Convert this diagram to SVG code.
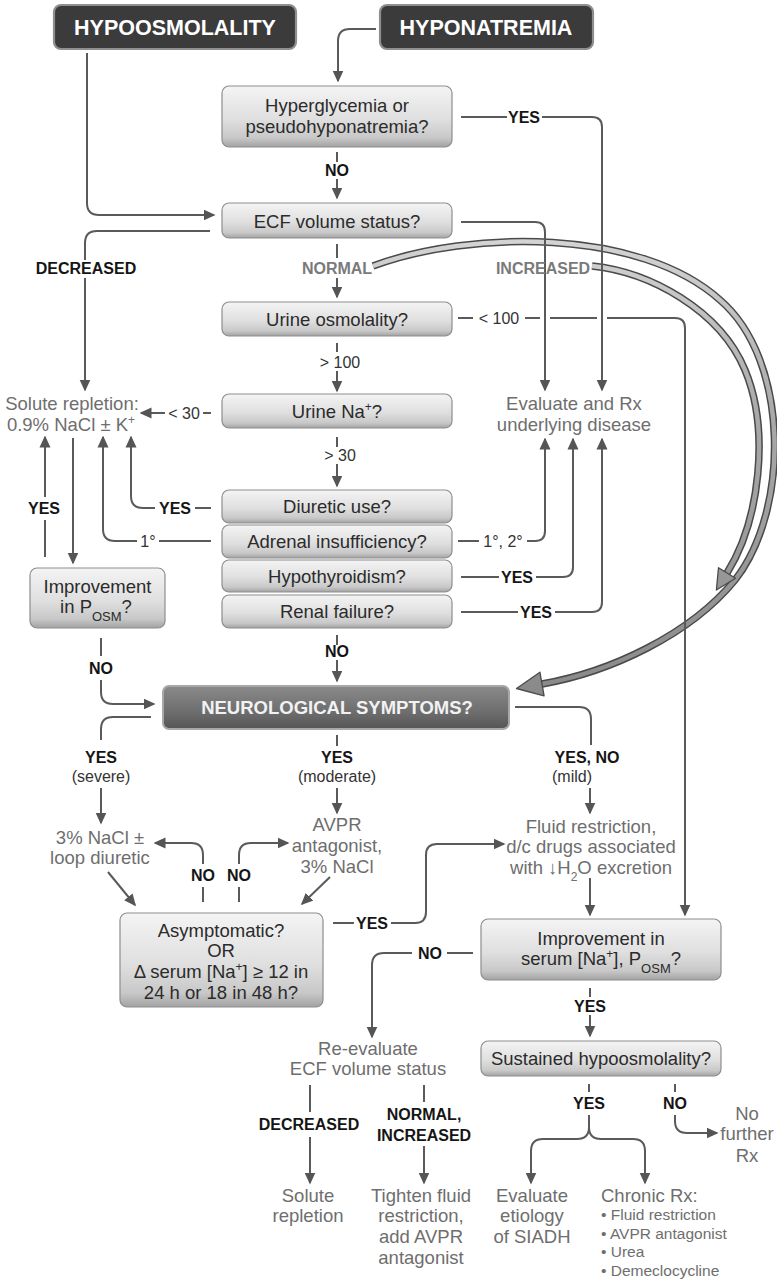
<svg xmlns="http://www.w3.org/2000/svg" width="777" height="1279" viewBox="0 0 777 1279">
<defs>
<linearGradient id="gBox" x1="0" y1="0" x2="0" y2="1">
<stop offset="0" stop-color="#f4f4f4"/>
<stop offset="0.55" stop-color="#dfdfdf"/>
<stop offset="0.85" stop-color="#c8c8c8"/>
<stop offset="1" stop-color="#a2a2a2"/>
</linearGradient>
<linearGradient id="gNeuro" x1="0" y1="0" x2="0" y2="1">
<stop offset="0" stop-color="#8a8a8a"/>
<stop offset="0.6" stop-color="#6e6e6e"/>
<stop offset="1" stop-color="#555555"/>
</linearGradient>
<linearGradient id="gBand" gradientUnits="userSpaceOnUse" x1="0" y1="240" x2="0" y2="690">
<stop offset="0" stop-color="#d4d4d4"/>
<stop offset="0.36" stop-color="#ababab"/>
<stop offset="1" stop-color="#8a8a8a"/>
</linearGradient>
<marker id="ah" markerUnits="userSpaceOnUse" markerWidth="12" markerHeight="12" refX="10.5" refY="6" orient="auto" viewBox="0 0 12 12">
<path d="M0,0.5 L12,6 L0,11.5 z" fill="#555555"/>
</marker>
</defs>
<style>
.ln{fill:none;stroke:#5a5a5a;stroke-width:2}
.arr{marker-end:url(#ah)}
.bx{fill:url(#gBox);stroke:#8e8e8e;stroke-width:1.2}
.dk{fill:#3b3b3b;stroke:#8f8f8f;stroke-width:2.2}
.nb{fill:url(#gNeuro);stroke:#a8a8a8;stroke-width:2}
.band{fill:none;stroke:#4a4a4a;stroke-width:7.5}
.bandin{fill:none;stroke:url(#gBand);stroke-width:4.5}
.ah2{fill:url(#gBand);stroke:#4a4a4a;stroke-width:1.3;stroke-linejoin:round}
text{font-family:"Liberation Sans",Arial,Helvetica,sans-serif;text-anchor:middle}
.hd{font-size:21.5px;font-weight:bold;fill:#ffffff}
.q{font-size:18.5px;fill:#2b2b2b}
.nt{font-size:18.5px;font-weight:bold;fill:#f2f2f2}
.g{font-size:18.5px;fill:#6e6e6e}
.gl{font-size:18.5px;fill:#6e6e6e;text-anchor:start}
.bl{font-size:15.5px;fill:#6e6e6e;text-anchor:start}
.lb{font-size:16px;font-weight:bold;fill:#151515}
.lg{font-size:16px;font-weight:bold;fill:#7a7a7a}
.lr{font-size:16px;fill:#333333}
</style>

<!-- big hollow arrows -->
<g id="big-arrows">
<path class="band" d="M 373 266 C 470 230, 640 228, 720 300 C 790 360, 790 510, 735 580 C 690 635, 610 672, 542 684"/>
<path class="bandin" d="M 373 266 C 470 230, 640 228, 720 300 C 790 360, 790 510, 735 580 C 690 635, 610 672, 542 684"/>
<polygon class="ah2" points="516.5,688.5 539.9,672.2 544.1,695.8"/>
<path class="band" d="M 592 266 C 650 272, 720 310, 745 370 C 770 430, 760 520, 727 573"/>
<path class="bandin" d="M 592 266 C 650 272, 720 310, 745 370 C 770 430, 760 520, 727 573"/>
<polygon class="ah2" points="716.4,590 718.5,567.7 735.5,578.3"/>
</g>

<g id="connectors">
<path class="ln arr" d="M 376 29 H 350 Q 338 29 338 41 V 81"/>
<path class="ln arr" d="M 87 53 V 203 Q 87 215 99 215 H 214"/>
<path class="ln" d="M 461 117 H 507"/>
<path class="ln arr" d="M 542 117 H 592 Q 602 117 602 127 V 390"/>
<path class="ln arr" d="M 461 222 H 535 Q 545 222 545 232 V 390"/>
<path class="ln" d="M 210 231 H 97 Q 85 231 85 243 V 260"/>
<path class="ln arr" d="M 85 278 V 390"/>
<path class="ln" d="M 337 152 V 162"/>
<path class="ln arr" d="M 337 179 V 198"/>
<path class="ln" d="M 337 244 V 258"/>
<path class="ln arr" d="M 337 278 V 297"/>
<path class="ln" d="M 337 343 V 352"/>
<path class="ln arr" d="M 337 371 V 391"/>
<path class="ln" d="M 458 318 H 473"/>
<path class="ln" d="M 525 318 H 540"/>
<path class="ln" d="M 550 318 H 597"/>
<path class="ln arr" d="M 607 318 H 675 Q 685 318 685 328 V 915"/>
<path class="ln" d="M 211 413 H 203"/>
<path class="ln arr" d="M 165 413 H 141"/>
<path class="ln" d="M 337 437 V 447"/>
<path class="ln arr" d="M 337 464 V 486"/>
<path class="ln" d="M 211 508 H 195"/>
<path class="ln arr" d="M 155 508 H 143 Q 131 508 131 496 V 437"/>
<path class="ln" d="M 211 541 H 159"/>
<path class="ln arr" d="M 137 541 H 115 Q 103 541 103 529 V 437"/>
<path class="ln" d="M 458 541 H 479"/>
<path class="ln arr" d="M 527 541 H 535 Q 545 541 545 531 V 439"/>
<path class="ln" d="M 461 577 H 499"/>
<path class="ln arr" d="M 536 577 H 563 Q 573 577 573 567 V 439"/>
<path class="ln" d="M 461 612 H 518"/>
<path class="ln arr" d="M 555 612 H 592 Q 602 612 602 602 V 439"/>
<path class="ln" d="M 45 557 V 520"/>
<path class="ln arr" d="M 45 497 V 437"/>
<path class="ln arr" d="M 73 438 V 563"/>
<path class="ln" d="M 101 638 V 656"/>
<path class="ln arr" d="M 101 680 V 692 Q 101 704 113 704 H 154"/>
<path class="ln" d="M 337 635 V 645"/>
<path class="ln arr" d="M 337 660 V 681"/>
<path class="ln" d="M 151 717 H 113 Q 101 717 101 729 V 740"/>
<path class="ln arr" d="M 101 788 V 823"/>
<path class="ln" d="M 337 735 V 746"/>
<path class="ln arr" d="M 337 788 V 813"/>
<path class="ln" d="M 515 707 H 579 Q 591 707 591 719 V 745"/>
<path class="ln arr" d="M 590 788 V 813"/>
<path class="ln arr" d="M 203 864 V 855 Q 203 843 191 843 H 155"/>
<path class="ln arr" d="M 239 864 V 855 Q 239 843 251 843 H 288"/>
<path class="ln" d="M 203 887 V 902"/>
<path class="ln" d="M 239 887 V 902"/>
<path class="ln arr" d="M 108 872 L 135 905"/>
<path class="ln arr" d="M 330 877 L 302 904"/>
<path class="ln" d="M 333 923 H 354"/>
<path class="ln arr" d="M 391 923 H 415 Q 426 923 426 912 V 855 Q 426 844 437 844 H 504"/>
<path class="ln arr" d="M 590 878 V 915"/>
<path class="ln" d="M 473 953 H 447"/>
<path class="ln arr" d="M 412 953 H 384 Q 372 953 372 965 V 1037"/>
<path class="ln" d="M 590 988 V 997"/>
<path class="ln arr" d="M 590 1015 V 1036"/>
<path class="ln" d="M 310 1085 V 1112"/>
<path class="ln arr" d="M 310 1137 V 1183"/>
<path class="ln" d="M 424 1085 V 1102"/>
<path class="ln arr" d="M 424 1146 V 1183"/>
<path class="ln" d="M 589 1084 V 1092"/>
<path class="ln arr" d="M 589 1115 V 1127 Q 589 1139 577 1139 H 543 Q 531 1139 531 1151 V 1183"/>
<path class="ln arr" d="M 589 1127 Q 589 1139 601 1139 H 633 Q 645 1139 645 1151 V 1183"/>
<path class="ln" d="M 675 1084 V 1092"/>
<path class="ln arr" d="M 675 1115 V 1121 Q 675 1133 687 1133 H 717"/>
</g>

<g id="edge-labels">
<text class="lb" x="524" y="123">YES</text>
<text class="lb" x="337" y="176">NO</text>
<text class="lb" x="86" y="274">DECREASED</text>
<text class="lg" x="337" y="274">NORMAL</text>
<text class="lg" x="543" y="274">INCREASED</text>
<text class="lr" x="499" y="324">&lt; 100</text>
<text class="lr" x="340" y="368">&gt; 100</text>
<text class="lr" x="184" y="419">&lt; 30</text>
<text class="lr" x="340" y="461">&gt; 30</text>
<text class="lb" x="175" y="514">YES</text>
<text class="lb" x="44" y="514">YES</text>
<text class="lr" x="148" y="547">1°</text>
<text class="lr" x="503" y="547">1°, 2°</text>
<text class="lb" x="517" y="583">YES</text>
<text class="lb" x="536" y="618">YES</text>
<text class="lb" x="101" y="674">NO</text>
<text class="lb" x="337" y="657">NO</text>
<text class="lb" x="101" y="763">YES</text>
<text class="lr" x="101" y="782">(severe)</text>
<text class="lb" x="337" y="763">YES</text>
<text class="lr" x="337" y="782">(moderate)</text>
<text class="lb" x="587" y="763">YES, NO</text>
<text class="lr" x="572" y="782">(mild)</text>
<text class="lb" x="203" y="881">NO</text>
<text class="lb" x="239" y="881">NO</text>
<text class="lb" x="372" y="929">YES</text>
<text class="lb" x="430" y="959">NO</text>
<text class="lb" x="590" y="1012">YES</text>
<text class="lb" x="309" y="1130">DECREASED</text>
<text class="lb" x="424" y="1120">NORMAL,</text>
<text class="lb" x="424" y="1141">INCREASED</text>
<text class="lb" x="589" y="1109">YES</text>
<text class="lb" x="675" y="1109">NO</text>
</g>

<g id="hypoosmolality"><rect class="dk" x="54" y="5" width="242" height="44" rx="7"/><text class="hd" x="175" y="35">HYPOOSMOLALITY</text></g>
<g id="hyponatremia"><rect class="dk" x="380" y="5" width="213" height="44" rx="7"/><text class="hd" x="486" y="35">HYPONATREMIA</text></g>
<g id="hyperglycemia"><rect class="bx" x="222" y="86" width="230" height="61" rx="7"/><text class="q" x="337" y="112">Hyperglycemia or</text><text class="q" x="337" y="133">pseudohyponatremia?</text></g>
<g id="ecf-volume"><rect class="bx" x="222" y="203" width="230" height="35" rx="7"/><text class="q" x="337" y="227.5">ECF volume status?</text></g>
<g id="urine-osm"><rect class="bx" x="222" y="302" width="230" height="34" rx="7"/><text class="q" x="337" y="326">Urine osmolality?</text></g>
<g id="urine-na"><rect class="bx" x="222" y="394" width="230" height="34" rx="7"/><text class="q" x="337" y="418">Urine Na<tspan font-size="12" baseline-shift="super">+</tspan>?</text></g>
<g id="diuretic"><rect class="bx" x="222" y="490" width="230" height="33" rx="7"/><text class="q" x="337" y="513">Diuretic use?</text></g>
<g id="adrenal"><rect class="bx" x="222" y="525" width="230" height="33" rx="7"/><text class="q" x="337" y="548">Adrenal insufficiency?</text></g>
<g id="hypothyroidism"><rect class="bx" x="222" y="560" width="230" height="32" rx="7"/><text class="q" x="337" y="582.5">Hypothyroidism?</text></g>
<g id="renal-failure"><rect class="bx" x="222" y="595" width="230" height="33" rx="7"/><text class="q" x="337" y="618">Renal failure?</text></g>
<g id="solute-repletion"><text class="g" x="72" y="410">Solute repletion:</text><text class="g" x="71" y="431">0.9% NaCl ± K<tspan font-size="12" baseline-shift="super">+</tspan></text></g>
<g id="evaluate-rx"><text class="g" x="574" y="410">Evaluate and Rx</text><text class="g" x="574" y="431">underlying disease</text></g>
<g id="improvement-posm"><rect class="bx" x="30" y="568" width="135" height="60" rx="7"/><text class="q" x="97.5" y="592.5">Improvement</text><text class="q" x="96" y="612.5">in P<tspan font-size="13" baseline-shift="sub">OSM</tspan>?</text></g>
<g id="neuro"><rect class="nb" x="163" y="686" width="346" height="43" rx="6"/><text class="nt" x="337" y="714">NEUROLOGICAL SYMPTOMS?</text></g>
<g id="hypertonic"><text class="g" x="100" y="844">3% NaCl ±</text><text class="g" x="100" y="864">loop diuretic</text></g>
<g id="avpr"><text class="g" x="337" y="831">AVPR</text><text class="g" x="337" y="852">antagonist,</text><text class="g" x="337" y="873">3% NaCl</text></g>
<g id="fluid-restriction"><text class="g" x="591" y="833">Fluid restriction,</text><text class="g" x="591" y="853">d/c drugs associated</text><text class="g" x="591" y="874">with ↓H<tspan font-size="12" baseline-shift="sub">2</tspan>O excretion</text></g>
<g id="asymptomatic"><rect class="bx" x="120" y="913" width="203" height="94" rx="7"/><text class="q" x="221" y="936.5">Asymptomatic?</text><text class="q" x="221" y="956.5">OR</text><text class="q" x="221" y="977.5">Δ serum [Na<tspan font-size="12" baseline-shift="super">+</tspan>] ≥ 12 in</text><text class="q" x="221" y="998.5">24 h or 18 in 48 h?</text></g>
<g id="improvement-serum"><rect class="bx" x="481" y="919" width="240" height="61" rx="7"/><text class="q" x="601" y="944.5">Improvement in</text><text class="q" x="601" y="964.5">serum [Na<tspan font-size="12" baseline-shift="super">+</tspan>], P<tspan font-size="13" baseline-shift="sub">OSM</tspan>?</text></g>
<g id="reevaluate"><text class="g" x="368" y="1055">Re-evaluate</text><text class="g" x="368" y="1075">ECF volume status</text></g>
<g id="sustained"><rect class="bx" x="481" y="1041" width="240" height="35" rx="7"/><text class="q" x="601" y="1065">Sustained hypoosmolality?</text></g>
<g id="no-further"><text class="g" x="747" y="1120">No</text><text class="g" x="747" y="1140">further</text><text class="g" x="747" y="1162">Rx</text></g>
<g id="solute-bottom"><text class="g" x="308" y="1202">Solute</text><text class="g" x="308" y="1222">repletion</text></g>
<g id="tighten"><text class="g" x="421" y="1202">Tighten fluid</text><text class="g" x="421" y="1222">restriction,</text><text class="g" x="421" y="1243">add AVPR</text><text class="g" x="421" y="1264">antagonist</text></g>
<g id="siadh"><text class="g" x="532" y="1202">Evaluate</text><text class="g" x="532" y="1222">etiology</text><text class="g" x="532" y="1243">of SIADH</text></g>
<g id="chronic-rx"><text class="gl" x="601" y="1202">Chronic Rx:</text><text class="bl" x="601" y="1220">• Fluid restriction</text><text class="bl" x="601" y="1239">• AVPR antagonist</text><text class="bl" x="601" y="1257">• Urea</text><text class="bl" x="601" y="1276">• Demeclocycline</text></g>
</svg>
